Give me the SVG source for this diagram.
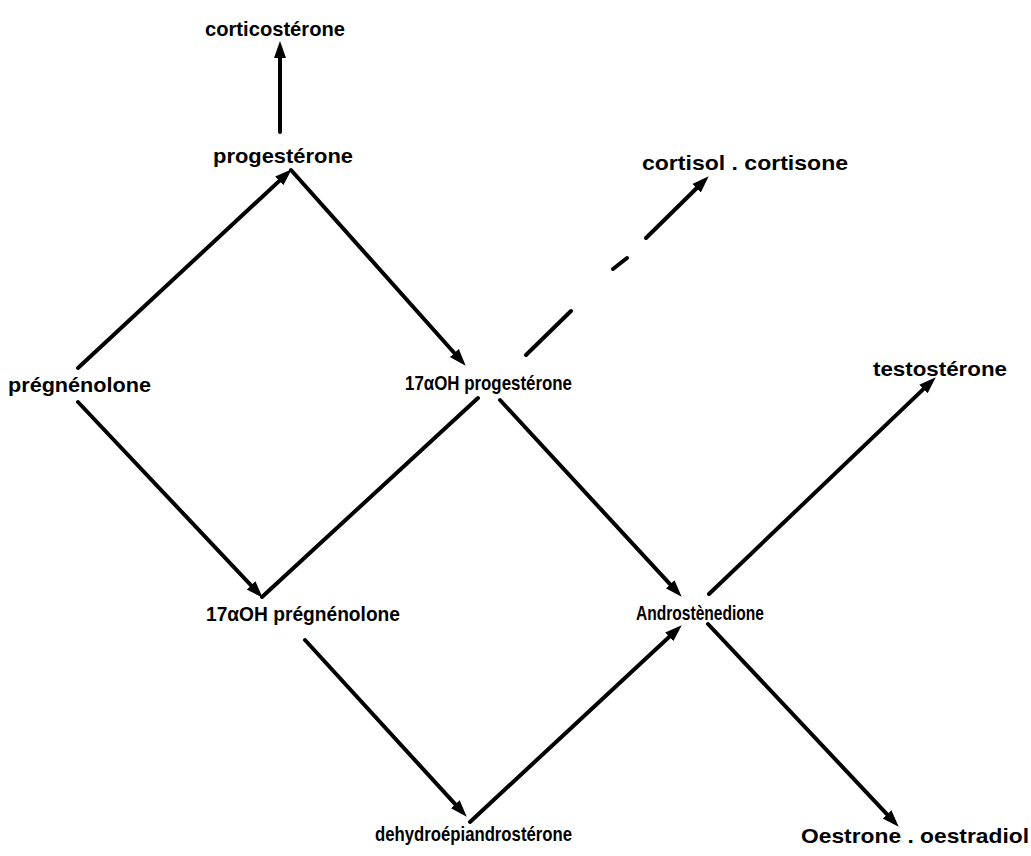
<svg xmlns="http://www.w3.org/2000/svg" width="1031" height="856" viewBox="0 0 1031 856">
<style>
.lbl{font-family:"Liberation Sans",Arial,sans-serif;font-weight:bold;font-size:21px;fill:#000}
.c{stroke:#000;stroke-width:4;fill:none;stroke-linecap:round}
.a{marker-end:url(#ah)}
</style>
<defs>
<marker id="ah" markerUnits="userSpaceOnUse" markerWidth="18" markerHeight="14" refX="10" refY="7" orient="auto">
<path d="M0,1 L17,7 L0,13 z" fill="#000"/>
</marker>
</defs>
<rect width="1031" height="856" fill="#fff"/>
<g id="connectors">
<line class="c a" x1="280" y1="132" x2="280" y2="48"/>
<line class="c a" x1="78" y1="368" x2="286.6" y2="174.1"/>
<line class="c a" x1="291" y1="170" x2="461" y2="360.5"/>
<line class="c a" x1="78" y1="402" x2="257.9" y2="592.6"/>
<line class="c" x1="262" y1="597" x2="478" y2="398"/>
<line class="c" x1="526" y1="355" x2="571" y2="311"/>
<line class="c" x1="613" y1="269" x2="627" y2="258"/>
<line class="c a" x1="646" y1="238" x2="703.7" y2="181.2"/>
<line class="c a" x1="500" y1="400" x2="676.9" y2="591.6"/>
<line class="c a" x1="709" y1="594" x2="930.7" y2="382.1"/>
<line class="c a" x1="305" y1="640" x2="462" y2="811.6"/>
<line class="c a" x1="470" y1="822" x2="676.6" y2="630"/>
<line class="c a" x1="708" y1="624" x2="893.9" y2="821.6"/>
</g>
<g id="corticosterone"><text class="lbl" x="205" y="36" textLength="140" lengthAdjust="spacingAndGlyphs">corticostérone</text></g>
<g id="progesterone"><text class="lbl" x="213" y="163" textLength="140" lengthAdjust="spacingAndGlyphs">progestérone</text></g>
<g id="pregnenolone"><text class="lbl" x="8" y="392" textLength="143" lengthAdjust="spacingAndGlyphs">prégnénolone</text></g>
<g id="oh17-progesterone"><text class="lbl" x="405" y="390" textLength="167" lengthAdjust="spacingAndGlyphs">17αOH progestérone</text></g>
<g id="cortisol"><text class="lbl" x="642" y="170" textLength="206" lengthAdjust="spacingAndGlyphs">cortisol . cortisone</text></g>
<g id="testosterone"><text class="lbl" x="873" y="376" textLength="134" lengthAdjust="spacingAndGlyphs">testostérone</text></g>
<g id="oh17-pregnenolone"><text class="lbl" x="206" y="621" textLength="194" lengthAdjust="spacingAndGlyphs">17αOH prégnénolone</text></g>
<g id="androstenedione"><text class="lbl" x="636" y="620" textLength="128" lengthAdjust="spacingAndGlyphs">Androstènedione</text></g>
<g id="dhea"><text class="lbl" x="375" y="841" textLength="197" lengthAdjust="spacingAndGlyphs">dehydroépiandrostérone</text></g>
<g id="oestrone"><text class="lbl" x="801" y="843" textLength="228" lengthAdjust="spacingAndGlyphs">Oestrone . oestradiol</text></g>
</svg>
